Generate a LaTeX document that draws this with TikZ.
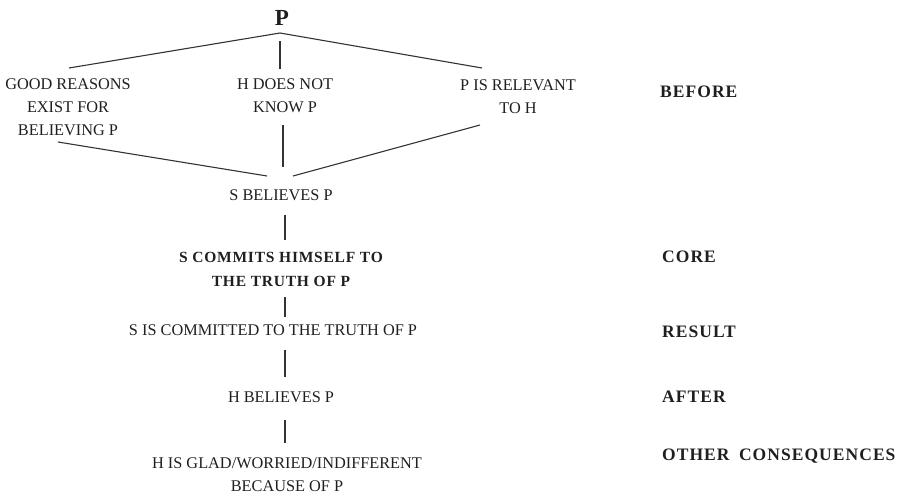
\documentclass[tikz,border=0pt]{standalone}
\usepackage{fontspec}
\setmainfont{Liberation Serif}
\begin{document}
\begin{tikzpicture}[x=1pt,y=-1pt,
  txt/.style={inner sep=0pt,align=center,text=black!88,font=\fontsize{16.3}{22.8}\selectfont},
  boldtxt/.style={inner sep=0pt,align=center,text=black!88,font=\fontsize{15.5}{24.5}\selectfont\bfseries\addfontfeature{LetterSpace=5}},
  lab/.style={inner sep=0pt,anchor=west,text=black!88,font=\fontsize{17.5}{20}\selectfont\bfseries\addfontfeature{LetterSpace=6}},
  conn/.style={draw=black!80,line width=1.1pt}]
\useasboundingbox (0,0) rectangle (910,496);
% nodes
\node[inner sep=0pt,text=black!88,font=\fontsize{23}{25}\selectfont\bfseries] (p) at (282,18) {P};
\node[txt] (good) at (68,107) {GOOD REASONS\\EXIST FOR\\BELIEVING P};
\node[txt] (hdoes) at (285,96) {H DOES NOT\\KNOW P};
\node[txt] (rel) at (518,97) {P IS RELEVANT\\TO H};
\node[txt] (sbel) at (281,195) {S BELIEVES P};
\node[boldtxt] (scom) at (281,269.5) {S COMMITS HIMSELF TO\\THE TRUTH OF P};
\node[txt] (sis) at (273,330) {S IS COMMITTED TO THE TRUTH OF P};
\node[txt] (hbel) at (281,397) {H BELIEVES P};
\node[txt] (hglad) at (287,475) {H IS GLAD/WORRIED/INDIFFERENT\\BECAUSE OF P};
% labels
\node[lab] (before) at (660,92) {BEFORE};
\node[lab] (core) at (662,257) {CORE};
\node[lab] (result) at (662,332) {RESULT};
\node[lab] (after) at (662,397) {AFTER};
\node[lab] (other) at (662,456) {OTHER\hspace{4pt} CONSEQUENCES};
% connector end points
\coordinate (apex) at (280,33);
\coordinate (tl) at (69,68);
\coordinate (tr) at (482,68);
\coordinate (tmtop) at (280,41);
\coordinate (tmbot) at (280,69);
\coordinate (bl) at (58,142);
\coordinate (blend) at (267,176);
\coordinate (br) at (480,125);
\coordinate (brend) at (293,176);
\coordinate (bmtop) at (283,125);
\coordinate (bmbot) at (283,167);
\coordinate (v1a) at (285,215);
\coordinate (v1b) at (285,240);
\coordinate (v2a) at (285,297);
\coordinate (v2b) at (285,317);
\coordinate (v3a) at (285,350);
\coordinate (v3b) at (285,377);
\coordinate (v4a) at (285,420);
\coordinate (v4b) at (285,443);
% connectors
\draw[conn] (tl) -- (apex) -- (tr);
\draw[conn] (tmtop) -- (tmbot);
\draw[conn] (bl) -- (blend);
\draw[conn] (br) -- (brend);
\draw[conn] (bmtop) -- (bmbot);
\draw[conn] (v1a) -- (v1b);
\draw[conn] (v2a) -- (v2b);
\draw[conn] (v3a) -- (v3b);
\draw[conn] (v4a) -- (v4b);
\end{tikzpicture}
\end{document}
